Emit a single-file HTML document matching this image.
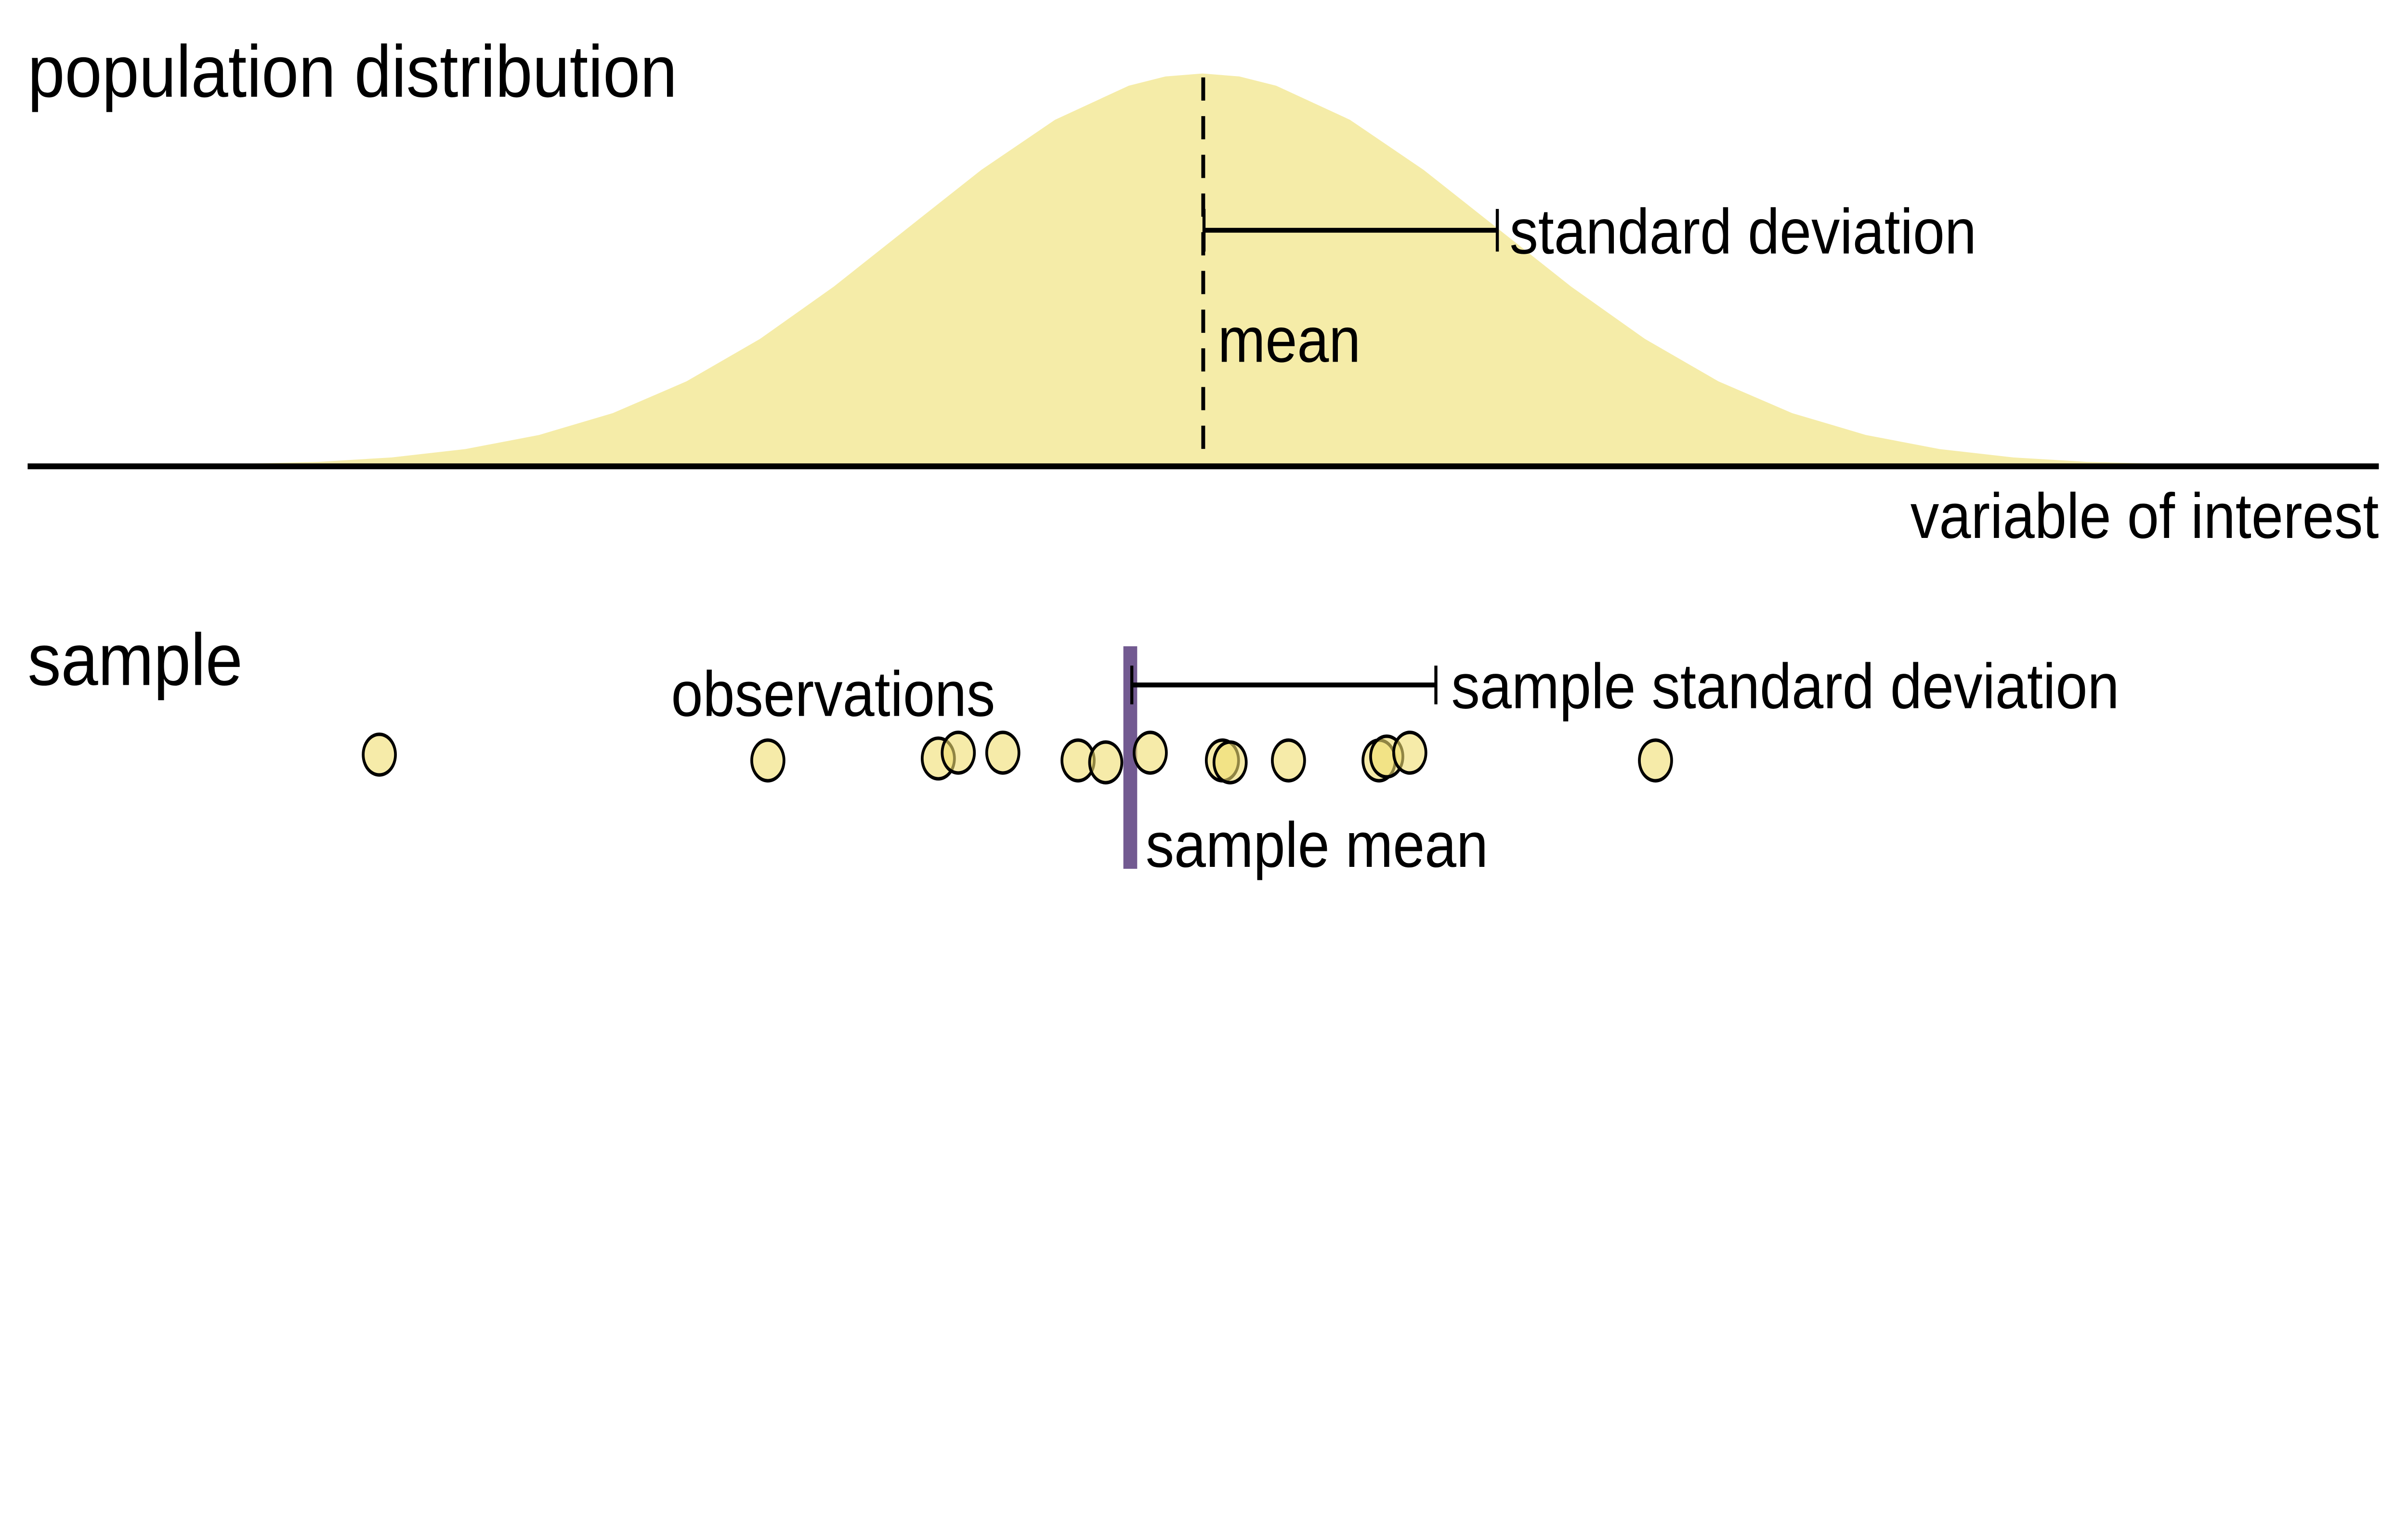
<!DOCTYPE html>
<html><head><meta charset="utf-8"><style>
html,body{margin:0;padding:0;background:#fff;width:100%;height:100%;overflow:hidden;}
svg{display:block;position:absolute;left:0;top:0;width:100vw;height:100vh;}
text{font-family:"Liberation Sans",Arial,sans-serif;fill:#000;}
</style></head><body>
<svg viewBox="0 0 1568 784" preserveAspectRatio="none" xmlns="http://www.w3.org/2000/svg">
<rect width="1568" height="784" fill="#fff"/>
<path fill="#f5eca8" d="M111,240.6 L207,238.7 L255,236.4 L303,232.1 L351,224.8 L399,213.5 L447,197.1 L495,175.1 L543,148.1 L591,117.9 L639,87.8 L687,61.9 L735,44.3 L759,39.5 L783,38 L807,39.5 L831,44.3 L879,61.9 L927,87.8 L975,117.9 L1023,148.1 L1071,175.1 L1119,197.1 L1167,213.5 L1215,224.8 L1263,232.1 L1311,236.4 L1359,238.7 L1455,240.6 L1455,241 L111,241 Z"/>
<line x1="783.5" y1="40" x2="783.5" y2="241" stroke="#000" stroke-width="2.5" stroke-dasharray="12,8"/>
<line x1="18" y1="241" x2="1549" y2="241" stroke="#000" stroke-width="3"/>
<line x1="784" y1="119" x2="975" y2="119" stroke="#000" stroke-width="2.5"/>
<line x1="784" y1="108" x2="784" y2="130" stroke="#000" stroke-width="2"/>
<line x1="975" y1="108" x2="975" y2="130" stroke="#000" stroke-width="2"/>
<text x="18" y="50" font-size="38" textLength="423" lengthAdjust="spacingAndGlyphs">population distribution</text>
<text x="983" y="131" font-size="33" textLength="304" lengthAdjust="spacingAndGlyphs">standard deviation</text>
<text x="793" y="187" font-size="33" textLength="93" lengthAdjust="spacingAndGlyphs">mean</text>
<text x="1244" y="278" font-size="33" textLength="305" lengthAdjust="spacingAndGlyphs">variable of interest</text>
<text x="18" y="354" font-size="38" textLength="140" lengthAdjust="spacingAndGlyphs">sample</text>
<text x="437" y="370" font-size="33" textLength="211" lengthAdjust="spacingAndGlyphs">observations</text>
<rect x="731.5" y="334" width="9" height="115" fill="#725a91"/>
<line x1="737" y1="354" x2="935" y2="354" stroke="#000" stroke-width="2.5"/>
<line x1="737" y1="344" x2="737" y2="364" stroke="#000" stroke-width="2"/>
<line x1="935" y1="344" x2="935" y2="364" stroke="#000" stroke-width="2"/>
<text x="945" y="366" font-size="33" textLength="435" lengthAdjust="spacingAndGlyphs">sample standard deviation</text>
<text x="746" y="448" font-size="33" textLength="223" lengthAdjust="spacingAndGlyphs">sample mean</text>
<g fill="#f0de70" fill-opacity="0.6" stroke="#000" stroke-width="1.8">
<circle cx="247" cy="390" r="10.5"/>
<circle cx="500" cy="393" r="10.5"/>
<circle cx="611" cy="392" r="10.5"/>
<circle cx="624" cy="389" r="10.5"/>
<circle cx="653" cy="389" r="10.5"/>
<circle cx="702" cy="393" r="10.5"/>
<circle cx="720" cy="394" r="10.5"/>
<circle cx="749" cy="389" r="10.5"/>
<circle cx="796" cy="393" r="10.5"/>
<circle cx="801" cy="394" r="10.5"/>
<circle cx="839" cy="393" r="10.5"/>
<circle cx="898" cy="393" r="10.5"/>
<circle cx="903" cy="391" r="10.5"/>
<circle cx="918" cy="389" r="10.5"/>
<circle cx="1078" cy="393" r="10.5"/>
</g>
</svg>
</body></html>
